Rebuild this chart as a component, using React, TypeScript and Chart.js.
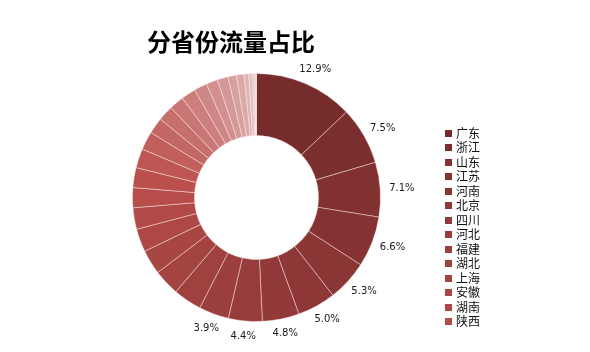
import React, { useEffect, useRef } from 'react';
import { Chart, registerables } from 'chart.js';

Chart.register(...registerables);

const TITLE = '分省份流量占比';

const provinces = [
  '广东', '浙江', '山东', '江苏', '河南', '北京', '四川', '河北', '福建', '湖北',
  '上海', '安徽', '湖南', '陕西', '辽宁', '广西', '江西', '重庆', '云南', '山西',
  '黑龙江', '天津', '吉林', '贵州', '内蒙古', '新疆', '甘肃', '海南', '宁夏', '青海', '西藏',
];

const shares = [
  12.9, 7.5, 7.1, 6.6, 5.3, 5.0, 4.8, 4.4, 3.9, 3.7,
  3.4, 3.2, 3.0, 2.8, 2.6, 2.6, 2.5, 2.4, 2.1, 2.0,
  1.9, 1.9, 1.7, 1.5, 1.4, 1.1, 1.0, 0.6, 0.5, 0.3, 0.2,
];

const labeledCount = 9;
const legendCount = 14;

// colour ramp (style)
const colorStops: [number, number[]][] = [
  [0, [0x77, 0x2c, 0x2c]],
  [8, [0x9a, 0x3f, 0x3d]],
  [15, [0xbb, 0x4f, 0x4c]],
  [20, [0xc9, 0x77, 0x75]],
  [25, [0xd6, 0xa0, 0x9f]],
  [30, [0xec, 0xd4, 0xd4]],
];

function rampColor(i: number): string {
  for (let k = 0; k < colorStops.length - 1; k++) {
    const [a, ca] = colorStops[k];
    const [b, cb] = colorStops[k + 1];
    if (i >= a && i <= b) {
      const t = (i - a) / (b - a);
      const c = ca.map((v, j) => Math.round(v + (cb[j] - v) * t));
      return `rgb(${c[0]},${c[1]},${c[2]})`;
    }
  }
  const last = colorStops[colorStops.length - 1][1];
  return `rgb(${last[0]},${last[1]},${last[2]})`;
}

const LEGEND_BOX_X = 445;
const LEGEND_TEXT_X = 456;
const LEGEND_FIRST_Y = 133;
const LEGEND_ROW = 14.5;
const LEGEND_BOX = 7;

const overlayPlugin = {
  id: 'overlay',
  afterDatasetsDraw(chart: any) {
    const ctx: CanvasRenderingContext2D = chart.ctx;
    const meta = chart.getDatasetMeta(0);
    const ds = chart.data.datasets[0];
    ctx.save();

    // percentage labels
    ctx.font = '10px "DejaVu Sans"';
    ctx.fillStyle = '#1a1a1a';
    ctx.textAlign = 'center';
    ctx.textBaseline = 'middle';
    meta.data.slice(0, labeledCount).forEach((arc: any, i: number) => {
      const p = arc.getProps(['x', 'y', 'startAngle', 'endAngle', 'outerRadius'], true);
      const mid = (p.startAngle + p.endAngle) / 2;
      const text = Number(ds.data[i]).toFixed(1) + '%';
      const w = ctx.measureText(text).width;
      const h = 12;
      const r = p.outerRadius + 9;
      const cx = p.x + Math.cos(mid) * r + (Math.cos(mid) * w) / 2;
      const cy = p.y + Math.sin(mid) * r + (Math.sin(mid) * h) / 2;
      ctx.fillText(text, cx, cy);
    });

    // legend
    ctx.font = '12px "Noto Sans CJK SC"';
    ctx.textAlign = 'left';
    ctx.textBaseline = 'middle';
    for (let i = 0; i < legendCount; i++) {
      const y = LEGEND_FIRST_Y + i * LEGEND_ROW;
      ctx.fillStyle = ds.backgroundColor[i];
      ctx.fillRect(LEGEND_BOX_X, Math.round(y - LEGEND_BOX / 2), LEGEND_BOX, LEGEND_BOX);
      ctx.fillStyle = '#111';
      ctx.fillText(chart.data.labels[i], LEGEND_TEXT_X, y);
    }

    // title
    ctx.font = 'bold 24px "Noto Sans CJK SC"';
    ctx.fillStyle = '#000';
    ctx.textBaseline = 'middle';
    ctx.fillText(TITLE, 147, 42);

    ctx.restore();
  },
};

export default function App() {
  const ref = useRef<HTMLCanvasElement>(null);

  useEffect(() => {
    if (!ref.current) return;
    const chart = new Chart(ref.current, {
      type: 'doughnut',
      data: {
        labels: provinces,
        datasets: [
          {
            data: shares,
            backgroundColor: shares.map((_, i) => rampColor(i)),
            borderColor: 'rgba(255,235,235,0.45)',
            borderWidth: 1,
          },
        ],
      },
      options: {
        animation: false,
        responsive: false,
        cutout: '50%',
        layout: { padding: { left: 132, right: 209, top: 73, bottom: 30 } },
        plugins: {
          legend: { display: false },
          title: { display: false },
          tooltip: { enabled: false },
        },
      },
      plugins: [overlayPlugin],
    });
    return () => chart.destroy();
  }, []);

  return (
    <div style={{ position: 'absolute', left: 0, top: 0, width: 590, height: 352, background: '#fff' }}>
      <canvas ref={ref} width={590} height={352} style={{ display: 'block' }} />
    </div>
  );
}
